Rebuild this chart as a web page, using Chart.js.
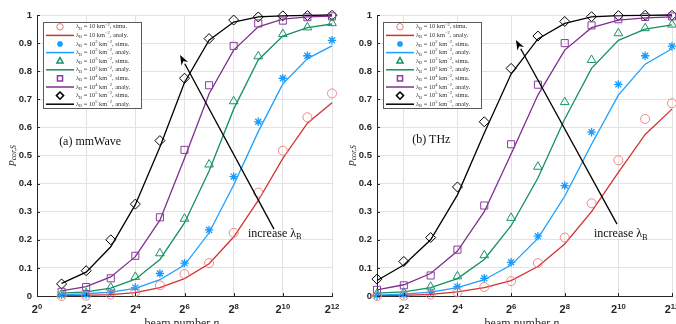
<!DOCTYPE html>
<html>
<head>
<meta charset="utf-8">
<script src="https://cdn.jsdelivr.net/npm/chart.js@4.4.1/dist/chart.umd.min.js"></script>
<style>
  html, body { margin: 0; padding: 0; background: #fff; }
  #wrap { position: relative; width: 676px; height: 324px; overflow: hidden; }
  .panel { position: absolute; top: 0; }
</style>
</head>
<body>
<div id="wrap">
  <div class="panel" style="left:0"><canvas id="chartA" width="340" height="324"></canvas></div>
  <div class="panel" style="left:340px"><canvas id="chartB" width="336" height="324"></canvas></div>
</div>
<script>
// beam number n_B = 2^k, k = 1..12
const exponents = [1, 2, 3, 4, 5, 6, 7, 8, 9, 10, 11, 12];
const lambdaPowers = [1, 2, 3, 4, 5];          // lambda_B = 10^p km^-2
const xTicksA = [0, 2, 4, 6, 8, 10, 12];
const xTicksB = [2, 4, 6, 8, 10, 12];
const yTicks = [0, 0.1, 0.2, 0.3, 0.4, 0.5, 0.6, 0.7, 0.8, 0.9, 1];

// (a) mmWave - simulation
const mmSim1 = [0.000, 0.001, 0.005, 0.015, 0.038, 0.078, 0.117, 0.225, 0.368, 0.517, 0.636, 0.721];
const mmSim2 = [0.003, 0.005, 0.012, 0.030, 0.080, 0.117, 0.235, 0.425, 0.620, 0.775, 0.855, 0.910];
const mmSim3 = [0.007, 0.010, 0.030, 0.068, 0.152, 0.275, 0.468, 0.693, 0.853, 0.932, 0.956, 0.971];
const mmSim4 = [0.015, 0.032, 0.063, 0.143, 0.280, 0.520, 0.750, 0.890, 0.970, 0.980, 0.992, 0.995];
const mmSim5 = [0.043, 0.090, 0.200, 0.327, 0.553, 0.775, 0.916, 0.982, 0.993, 0.997, 0.998, 0.999];
// (a) mmWave - analysis
const mmAna1 = [0.001, 0.002, 0.005, 0.012, 0.030, 0.062, 0.115, 0.210, 0.340, 0.490, 0.615, 0.688];
const mmAna2 = [0.004, 0.008, 0.014, 0.027, 0.058, 0.110, 0.225, 0.395, 0.585, 0.755, 0.845, 0.890];
const mmAna3 = [0.010, 0.015, 0.028, 0.060, 0.130, 0.260, 0.445, 0.665, 0.840, 0.925, 0.955, 0.968];
const mmAna4 = [0.018, 0.033, 0.068, 0.140, 0.270, 0.490, 0.720, 0.875, 0.958, 0.985, 0.993, 0.996];
const mmAna5 = [0.045, 0.085, 0.175, 0.325, 0.530, 0.760, 0.910, 0.975, 0.993, 0.997, 0.999, 1.000];

// (b) THz - simulation
const thzSim1 = [0.000, 0.001, 0.005, 0.013, 0.032, 0.053, 0.117, 0.208, 0.330, 0.483, 0.630, 0.686];
const thzSim2 = [0.002, 0.005, 0.012, 0.033, 0.063, 0.120, 0.213, 0.393, 0.583, 0.753, 0.855, 0.889];
const thzSim3 = [0.008, 0.012, 0.033, 0.070, 0.145, 0.278, 0.460, 0.690, 0.840, 0.935, 0.953, 0.966];
const thzSim4 = [0.022, 0.038, 0.073, 0.165, 0.322, 0.540, 0.752, 0.900, 0.963, 0.985, 0.993, 0.995];
const thzSim5 = [0.060, 0.123, 0.208, 0.388, 0.620, 0.810, 0.925, 0.977, 0.994, 0.998, 0.999, 0.999];
// (b) THz - analysis
const thzAna1 = [0.001, 0.002, 0.006, 0.015, 0.030, 0.055, 0.105, 0.185, 0.300, 0.440, 0.575, 0.665];
const thzAna2 = [0.003, 0.007, 0.014, 0.030, 0.058, 0.110, 0.205, 0.355, 0.540, 0.715, 0.825, 0.880];
const thzAna3 = [0.010, 0.015, 0.030, 0.062, 0.130, 0.250, 0.420, 0.630, 0.810, 0.910, 0.950, 0.965];
const thzAna4 = [0.022, 0.040, 0.080, 0.160, 0.300, 0.505, 0.715, 0.875, 0.955, 0.982, 0.990, 0.993];
const thzAna5 = [0.055, 0.110, 0.200, 0.360, 0.580, 0.790, 0.915, 0.970, 0.993, 0.998, 0.999, 1.000];

const SANS = '"Liberation Sans", Arial, sans-serif';
const SERIF = '"Liberation Serif", "Times New Roman", serif';

// style per lambda (marker + line)
const styles = [
  { mark: '#ec7b7b', line: '#d63131', point: 'circle',  r: 4.5, bw: 0.9 },
  { mark: '#1a9cff', line: '#1aa0ff', point: 'star',    r: 4.2, bw: 1.3 },
  { mark: '#16936a', line: '#16905f', point: 'triangle', r: 5,  bw: 1 },
  { mark: '#8a3aa0', line: '#7e2f8e', point: 'rect',    r: 5,   bw: 1 },
  { mark: '#000000', line: '#000000', point: 'rectRot', r: 5,   bw: 1 }
];

// texte avec indices / exposants
function rich(ctx, parts, x, y, base, family, draw) {
  let cx = x;
  parts.forEach(([t, kind]) => {
    const k = (kind || '').split(' ');
    const small = k.includes('sub') || k.includes('sup');
    const size = small ? base * 0.7 : base;
    ctx.font = (k.includes('i') ? 'italic ' : '') + (k.includes('b') ? 'bold ' : '') + size + 'px ' + family;
    let dy = 0;
    if (k.includes('sub')) dy = base * 0.28;
    if (k.includes('sup')) dy = -base * 0.38;
    if (draw !== false) ctx.fillText(t, cx, y + dy);
    cx += ctx.measureText(t).width;
  });
  return cx - x;
}

function lambdaParts(p, kind) {
  const parts = [['λ', ''], ['B', 'sub']];
  if (p === 1) parts.push([' = 10 km', '']);
  else parts.push([' = 10', ''], [String(p), 'sup'], [' km', '']);
  parts.push(['−2', 'sup'], [', ' + kind + '.', '']);
  return parts;
}

const figText = {
  id: 'figText',
  afterDraw(chart, args, o) {
    const ctx = chart.ctx;
    const xs = chart.scales.x, ys = chart.scales.y;
    const a = chart.chartArea;
    ctx.save();

    // inward tick marks
    ctx.strokeStyle = '#262626';
    ctx.lineWidth = 1;
    ctx.beginPath();
    ys.ticks.forEach(t => {
      const py = Math.round(ys.getPixelForValue(t.value)) + 0.5;
      ctx.moveTo(a.left, py); ctx.lineTo(a.left + 3, py);
    });
    xs.ticks.forEach(t => {
      const px = Math.round(xs.getPixelForValue(t.value)) + 0.5;
      ctx.moveTo(px, a.bottom); ctx.lineTo(px, a.bottom - 3);
    });
    ctx.stroke();

    // x tick labels 2^k
    ctx.fillStyle = '#262626';
    ctx.textBaseline = 'alphabetic';
    ctx.textAlign = 'left';
    xs.ticks.forEach(t => {
      const parts = [['2', 'b'], [String(t.value), 'b sup']];
      const w = rich(ctx, parts, 0, 0, 11, SANS, false);
      const px = xs.getPixelForValue(t.value);
      rich(ctx, parts, px - w / 2, a.bottom + 17, 11, SANS);
    });

    // axis titles
    ctx.fillStyle = '#262626';
    const xl = [['beam number ', ''], ['n', 'i'], ['B', 'i sub']];
    const xw = rich(ctx, xl, 0, 0, 12, SERIF, false);
    rich(ctx, xl, (a.left + a.right) / 2 - xw / 2, 327, 12, SERIF);

    ctx.save();
    ctx.translate(11, (a.top + a.bottom) / 2);
    ctx.rotate(-Math.PI / 2);
    ctx.textBaseline = 'middle';
    const yl = [['p', 'i'], ['cor,S', 'i sub']];
    const yw = rich(ctx, yl, 0, 0, 11, SERIF, false);
    rich(ctx, yl, -yw / 2, 0, 11, SERIF);
    ctx.restore();

    // panel label
    ctx.fillStyle = '#111';
    ctx.textBaseline = 'middle';
    ctx.font = '12px ' + SERIF;
    ctx.fillText(o.panel.text, xs.getPixelForValue(o.panel.x), ys.getPixelForValue(o.panel.y));

    // arrow "increase lambda_B"
    const x0 = xs.getPixelForValue(o.arrow.from[0]), y0 = ys.getPixelForValue(o.arrow.from[1]);
    const x1 = xs.getPixelForValue(o.arrow.to[0]), y1 = ys.getPixelForValue(o.arrow.to[1]);
    const ang = Math.atan2(y1 - y0, x1 - x0);
    const hl = 10, hw = 3.8;
    ctx.strokeStyle = '#000';
    ctx.fillStyle = '#000';
    ctx.lineWidth = 1.3;
    ctx.beginPath();
    ctx.moveTo(x0, y0);
    ctx.lineTo(x1 - hl * Math.cos(ang), y1 - hl * Math.sin(ang));
    ctx.stroke();
    ctx.beginPath();
    ctx.moveTo(x1, y1);
    ctx.lineTo(x1 - hl * Math.cos(ang) + hw * Math.sin(ang), y1 - hl * Math.sin(ang) - hw * Math.cos(ang));
    ctx.lineTo(x1 - hl * 0.7 * Math.cos(ang), y1 - hl * 0.7 * Math.sin(ang));
    ctx.lineTo(x1 - hl * Math.cos(ang) - hw * Math.sin(ang), y1 - hl * Math.sin(ang) + hw * Math.cos(ang));
    ctx.closePath();
    ctx.fill();
    ctx.fillStyle = '#111';
    rich(ctx, [['increase λ', ''], ['B', 'sub']],
      xs.getPixelForValue(o.label.x), ys.getPixelForValue(o.label.y), 12, SERIF);

    // legend
    const L = { x: a.left + 6, y: 22, w: 98, h: 86 };
    ctx.fillStyle = '#fff';
    ctx.fillRect(L.x, L.y, L.w, L.h);
    ctx.strokeStyle = '#5a5a5a';
    ctx.lineWidth = 1;
    ctx.strokeRect(L.x + 0.5, L.y + 0.5, L.w, L.h);
    const rowH = L.h / 10;
    chart.data.datasets.forEach((ds, i) => {
      const cy = L.y + rowH * (i + 0.5) + 0.5;
      if (ds.showLine) {
        ctx.strokeStyle = ds.borderColor;
        ctx.lineWidth = 1.5;
        ctx.beginPath();
        ctx.moveTo(L.x + 3, cy); ctx.lineTo(L.x + 31, cy);
        ctx.stroke();
      } else {
        ctx.strokeStyle = ds.pointBorderColor;
        ctx.fillStyle = 'rgba(0,0,0,0)';
        Chart.helpers.drawPoint(ctx, {
          pointStyle: ds.pointStyle, radius: ds.pointRadius * 0.72,
          rotation: 0, borderWidth: ds.pointBorderWidth
        }, L.x + 17, cy);
      }
      ctx.fillStyle = '#333';
      ctx.textBaseline = 'middle';
      rich(ctx, lambdaParts(ds.lambdaPower, ds.showLine ? 'analy' : 'simu'), L.x + 33, cy, 6.4, SERIF);
    });

    ctx.restore();
  }
};

function buildDatasets(sims, anas) {
  const out = [];
  lambdaPowers.forEach((p, i) => {
    const st = styles[i];
    out.push({
      lambdaPower: p,
      data: exponents.map((k, j) => ({ x: k, y: sims[i][j] })),
      showLine: false,
      pointStyle: st.point,
      pointRadius: st.r,
      pointBorderColor: st.mark,
      pointBackgroundColor: 'rgba(0,0,0,0)',
      pointBorderWidth: st.bw,
      clip: false
    });
    out.push({
      lambdaPower: p,
      data: exponents.map((k, j) => ({ x: k, y: anas[i][j] })),
      showLine: true,
      borderColor: st.line,
      borderWidth: 1.3,
      pointRadius: 0,
      tension: 0,
      clip: false
    });
  });
  return out;
}

function makeChart(id, sims, anas, xMin, xTicks, rightPad, annot) {
  return new Chart(document.getElementById(id), {
    type: 'scatter',
    data: { datasets: buildDatasets(sims, anas) },
    options: {
      responsive: false,
      animation: false,
      events: [],
      layout: { autoPadding: false, padding: { left: 0, right: rightPad, top: 15, bottom: 0 } },
      plugins: { legend: { display: false }, tooltip: { enabled: false }, figText: annot },
      scales: {
        x: {
          type: 'linear', min: xMin, max: 12,
          afterBuildTicks: ax => { ax.ticks = xTicks.map(v => ({ value: v })); },
          afterFit: ax => { ax.height = 28; },
          ticks: { display: false },
          grid: { color: '#e2e2e2', drawTicks: false },
          border: { color: '#262626', width: 1 }
        },
        y: {
          min: 0, max: 1,
          afterBuildTicks: ax => { ax.ticks = yTicks.map(v => ({ value: v })); },
          afterFit: ax => { ax.width = 37; },
          ticks: {
            padding: 5, color: '#262626',
            font: { family: SANS, size: 9.5, weight: 'bold' },
            callback: v => String(+v.toFixed(1))
          },
          grid: { color: '#e2e2e2', drawTicks: false },
          border: { color: '#262626', width: 1 }
        }
      }
    },
    plugins: [figText]
  });
}

makeChart('chartA',
  [mmSim1, mmSim2, mmSim3, mmSim4, mmSim5],
  [mmAna1, mmAna2, mmAna3, mmAna4, mmAna5],
  0, xTicksA, 8,
  {
    panel: { text: '(a) mmWave', x: 0.9, y: 0.55 },
    arrow: { from: [9.64, 0.238], to: [5.82, 0.858] },
    label: { x: 8.58, y: 0.221 }
  });

makeChart('chartB',
  [thzSim1, thzSim2, thzSim3, thzSim4, thzSim5],
  [thzAna1, thzAna2, thzAna3, thzAna4, thzAna5],
  1, xTicksB, 4,
  {
    panel: { text: '(b) THz', x: 2.31, y: 0.557 },
    arrow: { from: [9.95, 0.256], to: [6.18, 0.911] },
    label: { x: 9.09, y: 0.22 }
  });
</script>
</body>
</html>
